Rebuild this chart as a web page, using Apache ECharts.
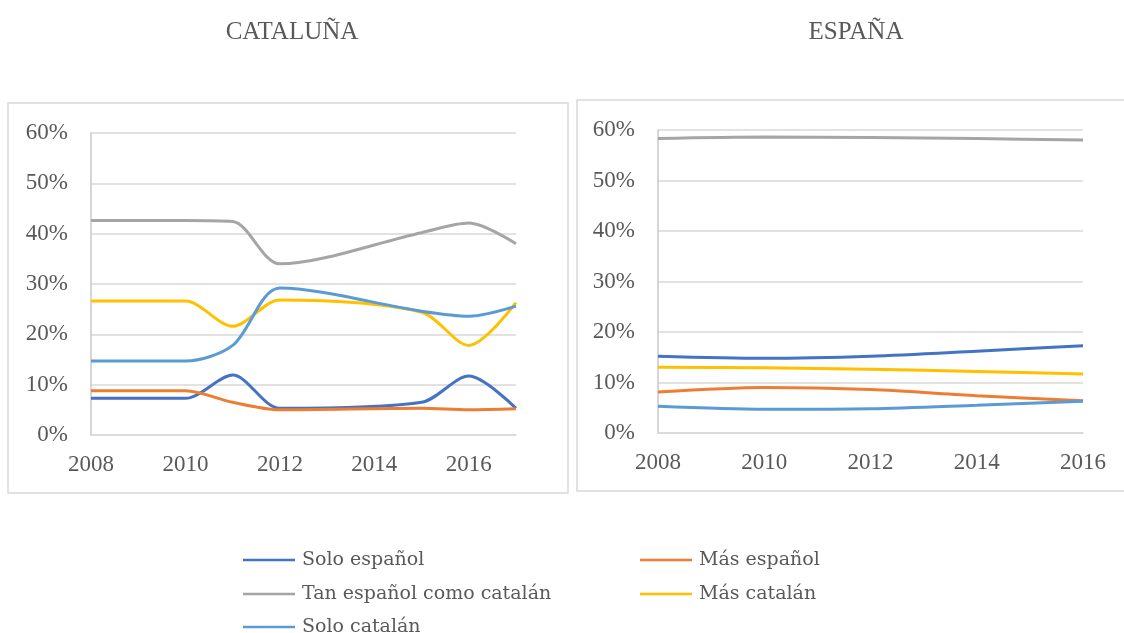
<!DOCTYPE html>
<html>
<head>
<meta charset="utf-8">
<script src="https://cdn.jsdelivr.net/npm/echarts@6/dist/echarts.min.js"></script>
<style>
html,body{margin:0;padding:0;background:#fff;}
#c{width:1124px;height:633px;}
</style>
</head>
<body>
<div id="c"></div>
<script>
// ---- data ----
const seriesNames = ['Solo español', 'Más español', 'Tan español como catalán', 'Más catalán', 'Solo catalán'];
const seriesColors = ['#4472C4', '#ED7D31', '#A5A5A5', '#FFC000', '#5B9BD5'];

const yearsCat = [2008, 2010, 2011, 2012, 2015, 2016, 2017];
const catSoloEsp = [7.3, 7.3, 11.9, 5.3, 6.5, 11.7, 5.3];
const catMasEsp = [8.8, 8.8, 6.5, 5.0, 5.3, 5.0, 5.2];
const catTan = [42.6, 42.6, 42.4, 34.0, 40.2, 42.1, 38.0];
const catMasCat = [26.6, 26.6, 21.6, 26.8, 24.4, 17.8, 26.3];
const catSoloCat = [14.7, 14.7, 17.8, 29.2, 24.6, 23.6, 25.6];

const yearsEsp = [2008, 2010, 2012, 2014, 2016];
const espSoloEsp = [15.2, 14.8, 15.2, 16.2, 17.3];
const espMasEsp = [8.1, 9.0, 8.6, 7.4, 6.4];
const espTan = [58.3, 58.6, 58.5, 58.3, 58.0];
const espMasCat = [13.0, 12.9, 12.6, 12.2, 11.7];
const espSoloCat = [5.3, 4.7, 4.8, 5.5, 6.3];

const titles = ['CATALUÑA', 'ESPAÑA'];

// ---- build ----
const pair = (xs, ys) => xs.map((x, i) => [x, ys[i]]);
const catData = [catSoloEsp, catMasEsp, catTan, catMasCat, catSoloCat];
const espData = [espSoloEsp, espMasEsp, espTan, espMasCat, espSoloCat];

const serif = "'Liberation Serif', 'Times New Roman', Times, serif";
const txt = '#595959';

function yAxis(gi) {
  return {
    type: 'value', gridIndex: gi, min: 0, max: 60, interval: 10,
    axisLabel: { formatter: '{value}%', fontFamily: serif, fontSize: 23, color: txt, margin: 23 },
    axisLine: { show: true, lineStyle: { color: '#c8c8c8', width: 1.5 } },
    axisTick: { show: false },
    splitLine: { lineStyle: { color: '#d9d9d9', width: 1.5 } }
  };
}
function xAxis(gi, max) {
  return {
    type: 'value', gridIndex: gi, min: 2008, max: max, interval: 2,
    axisLabel: { fontFamily: serif, fontSize: 23, color: txt, margin: 18,
      formatter: v => (v % 2 === 0 ? String(v) : '') },
    axisLine: { show: true, onZero: false, lineStyle: { color: '#d9d9d9', width: 1.5 } },
    axisTick: { show: false },
    splitLine: { show: false }
  };
}

const series = [];
catData.forEach((d, i) => series.push({
  name: seriesNames[i], type: 'line', xAxisIndex: 0, yAxisIndex: 0,
  data: pair(yearsCat, d), smooth: 0.3, showSymbol: false, symbol: 'none',
  lineStyle: { width: 3, color: seriesColors[i] }, itemStyle: { color: seriesColors[i] }
}));
espData.forEach((d, i) => series.push({
  name: seriesNames[i], type: 'line', xAxisIndex: 1, yAxisIndex: 1,
  data: pair(yearsEsp, d), smooth: 0.3, showSymbol: false, symbol: 'none',
  lineStyle: { width: 3, color: seriesColors[i] }, itemStyle: { color: seriesColors[i] }
}));

const legendPos = [
  { left: 243, top: 549 }, { left: 640, top: 549 },
  { left: 243, top: 583 }, { left: 640, top: 583 },
  { left: 243, top: 616 }
];
const legends = seriesNames.map((n, i) => ({
  data: [n], left: legendPos[i].left, top: legendPos[i].top, padding: 0,
  icon: 'rect', itemWidth: 52, itemHeight: 2.5, selectedMode: false,
  textStyle: { fontFamily: "'DejaVu Serif', serif", fontSize: 19, lineHeight: 22, color: txt, padding: [0, 0, 0, 2] }
}));

const chart = echarts.init(document.getElementById('c'), null, { renderer: 'canvas' });
chart.setOption({
  backgroundColor: '#fff',
  animation: false,
  title: [
    { text: titles[0], left: 287, top: 15, textAlign: 'center',
      textStyle: { fontFamily: serif, fontSize: 25, fontWeight: 'normal', color: txt } },
    { text: titles[1], left: 851, top: 15, textAlign: 'center',
      textStyle: { fontFamily: serif, fontSize: 25, fontWeight: 'normal', color: txt } }
  ],
  graphic: [
    { type: 'rect', shape: { x: 8, y: 103, width: 560, height: 390 }, style: { fill: 'none', stroke: '#d9d9d9', lineWidth: 1.5 }, z: -1 },
    { type: 'rect', shape: { x: 577, y: 100, width: 560, height: 391 }, style: { fill: 'none', stroke: '#d9d9d9', lineWidth: 1.5 }, z: -1 }
  ],
  legend: legends,
  grid: [
    { left: 91, right: 1124 - 516, top: 133, bottom: 633 - 435, containLabel: false },
    { left: 658, right: 1124 - 1083, top: 130, bottom: 633 - 433, containLabel: false }
  ],
  xAxis: [xAxis(0, 2017), xAxis(1, 2016)],
  yAxis: [yAxis(0), yAxis(1)],
  series: series
});
</script>
</body>
</html>
